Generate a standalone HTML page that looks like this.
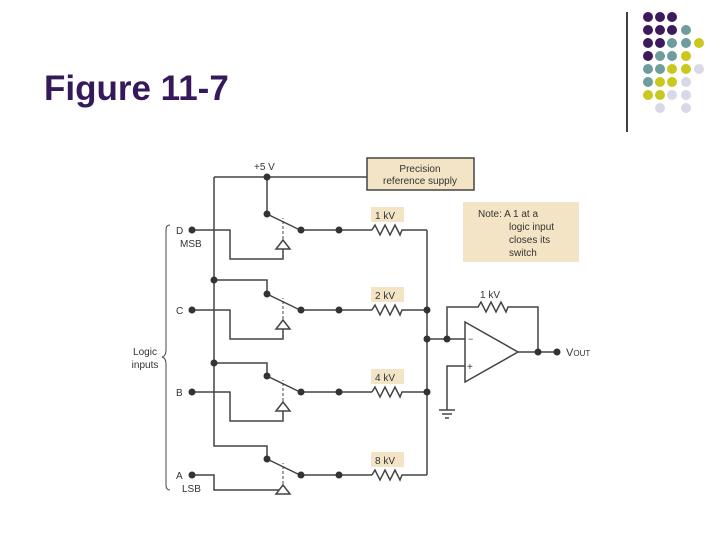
<!DOCTYPE html>
<html><head><style>
body{margin:0;background:#fff;width:720px;height:540px;overflow:hidden;font-family:"Liberation Sans",sans-serif}
</style></head><body>
<svg width="720" height="540" xmlns="http://www.w3.org/2000/svg" font-family="Liberation Sans, sans-serif">
<text x="44" y="100" font-size="35" font-weight="bold" fill="#35195a">Figure 11-7</text>
<line x1="627" y1="12" x2="627" y2="132" stroke="#000" stroke-width="1.5"/>
<g>
<circle cx="648" cy="17" r="5" fill="#3d1a5c"/><circle cx="660" cy="17" r="5" fill="#3d1a5c"/><circle cx="672" cy="17" r="5" fill="#3d1a5c"/>
<circle cx="648" cy="30" r="5" fill="#3d1a5c"/><circle cx="660" cy="30" r="5" fill="#3d1a5c"/><circle cx="672" cy="30" r="5" fill="#3d1a5c"/><circle cx="686" cy="30" r="5" fill="#6f9c9c"/>
<circle cx="648" cy="43" r="5" fill="#3d1a5c"/><circle cx="660" cy="43" r="5" fill="#3d1a5c"/><circle cx="672" cy="43" r="5" fill="#6f9c9c"/><circle cx="686" cy="43" r="5" fill="#6f9c9c"/><circle cx="699" cy="43" r="5" fill="#c8c81e"/>
<circle cx="648" cy="56" r="5" fill="#3d1a5c"/><circle cx="660" cy="56" r="5" fill="#6f9c9c"/><circle cx="672" cy="56" r="5" fill="#6f9c9c"/><circle cx="686" cy="56" r="5" fill="#c8c81e"/>
<circle cx="648" cy="69" r="5" fill="#6f9c9c"/><circle cx="660" cy="69" r="5" fill="#6f9c9c"/><circle cx="672" cy="69" r="5" fill="#c8c81e"/><circle cx="686" cy="69" r="5" fill="#c8c81e"/><circle cx="699" cy="69" r="5" fill="#d8d8e8"/>
<circle cx="648" cy="82" r="5" fill="#6f9c9c"/><circle cx="660" cy="82" r="5" fill="#c8c81e"/><circle cx="672" cy="82" r="5" fill="#c8c81e"/><circle cx="686" cy="82" r="5" fill="#d8d8e8"/>
<circle cx="648" cy="95" r="5" fill="#c8c81e"/><circle cx="660" cy="95" r="5" fill="#c8c81e"/><circle cx="672" cy="95" r="5" fill="#d8d8e8"/><circle cx="686" cy="95" r="5" fill="#d8d8e8"/>
<circle cx="660" cy="108" r="5" fill="#d8d8e8"/><circle cx="686" cy="108" r="5" fill="#d8d8e8"/>
</g>
<g stroke="#444" stroke-width="1.5" fill="none">
<rect x="367" y="158" width="107" height="32" fill="#f3e4c5"/>
<polyline points="214,177 367,177"/>
<polyline points="214,177 214,446 267,446 267,459"/>
<line x1="267" y1="177" x2="267" y2="214"/>
<polyline points="214,280 267,280 267,294"/>
<polyline points="214,363 267,363 267,376"/>
<polyline points="192,230 230,230 230,259 283,259 283,249"/>
<polyline points="192,310 230,310 230,339 283,339 283,329"/>
<polyline points="192,392 230,392 230,421 283,421 283,411"/>
<polyline points="192,475 214,475 214,490 283,490 283,494"/>
<line x1="427" y1="230" x2="427" y2="475"/>
<polyline points="427,339 465,339"/>
<polyline points="447,339 447,307 478,307 481,302 486,312 491,302 496,312 501,302 506,312 508,307 538,307 538,352"/>
<polygon points="465,322 465,382 518,352"/>
<polyline points="518,352 557,352"/>
<polyline points="465,366 447,366 447,410"/>
<line x1="439" y1="410" x2="455" y2="410"/><line x1="442" y1="414" x2="452" y2="414"/><line x1="445" y1="418" x2="449" y2="418"/>
<path d="M170,225 Q166,225 166,230 L166,350 Q166,356 162,357 Q166,358 166,364 L166,485 Q166,490 170,490" stroke-width="1"/>
</g>
<g stroke="#444" stroke-width="1.5" fill="none">
<g id="r"><line x1="267" y1="214" x2="300" y2="230"/><line x1="300" y1="230" x2="372" y2="230"/><polyline points="372,230 375,225 380,235 385,225 390,235 395,225 400,235 402,230 427,230"/><line x1="283" y1="249" x2="283" y2="218" stroke-dasharray="3,2" stroke-width="1"/><polygon points="276,249 290,249 283,240" fill="#fff"/></g>
<use href="#r" y="80"/><use href="#r" y="162"/><use href="#r" y="245"/>
</g>
<g fill="#f3e4c5">
<rect x="371" y="207" width="33" height="15"/><rect x="371" y="287" width="33" height="15"/><rect x="371" y="369" width="33" height="15"/><rect x="371" y="452" width="33" height="15"/>
<rect x="463" y="202" width="116" height="60"/>
</g>
<g fill="#333">
<circle cx="267" cy="177" r="3.5"/>
<circle cx="214" cy="280" r="3.5"/><circle cx="214" cy="363" r="3.5"/>
<circle cx="192" cy="230" r="3.5"/><circle cx="192" cy="310" r="3.5"/><circle cx="192" cy="392" r="3.5"/><circle cx="192" cy="475" r="3.5"/>
<circle cx="267" cy="214" r="3.5"/><circle cx="267" cy="294" r="3.5"/><circle cx="267" cy="376" r="3.5"/><circle cx="267" cy="459" r="3.5"/>
<circle cx="301" cy="230" r="3.5"/><circle cx="301" cy="310" r="3.5"/><circle cx="301" cy="392" r="3.5"/><circle cx="301" cy="475" r="3.5"/>
<circle cx="339" cy="230" r="3.5"/><circle cx="339" cy="310" r="3.5"/><circle cx="339" cy="392" r="3.5"/><circle cx="339" cy="475" r="3.5"/>
<circle cx="427" cy="310" r="3.5"/><circle cx="427" cy="339" r="3.5"/><circle cx="427" cy="392" r="3.5"/>
<circle cx="447" cy="339" r="3.5"/><circle cx="538" cy="352" r="3.5"/><circle cx="557" cy="352" r="3.5"/>
</g>
<g font-size="10" fill="#333">
<text x="254" y="170">+5 V</text>
<text x="420" y="172" text-anchor="middle">Precision</text>
<text x="420" y="184" text-anchor="middle">reference supply</text>
<text x="375" y="219">1 kV</text><text x="375" y="299">2 kV</text><text x="375" y="381">4 kV</text><text x="375" y="464">8 kV</text>
<text x="480" y="298">1 kV</text>
<text x="478" y="217">Note:  A 1 at a</text>
<text x="509" y="230">logic input</text>
<text x="509" y="243">closes its</text>
<text x="509" y="256">switch</text>
<text x="176" y="234">D</text><text x="180" y="247">MSB</text>
<text x="176" y="314">C</text><text x="176" y="396">B</text>
<text x="176" y="479">A</text><text x="182" y="492">LSB</text>
<text x="145" y="355" text-anchor="middle">Logic</text><text x="145" y="368" text-anchor="middle">inputs</text>
<text x="468" y="342" font-size="9">−</text><text x="467" y="370" font-size="10">+</text>
<text x="566" y="356" font-size="11">V<tspan font-size="8">OUT</tspan></text>
</g>
</svg>
</body></html>
